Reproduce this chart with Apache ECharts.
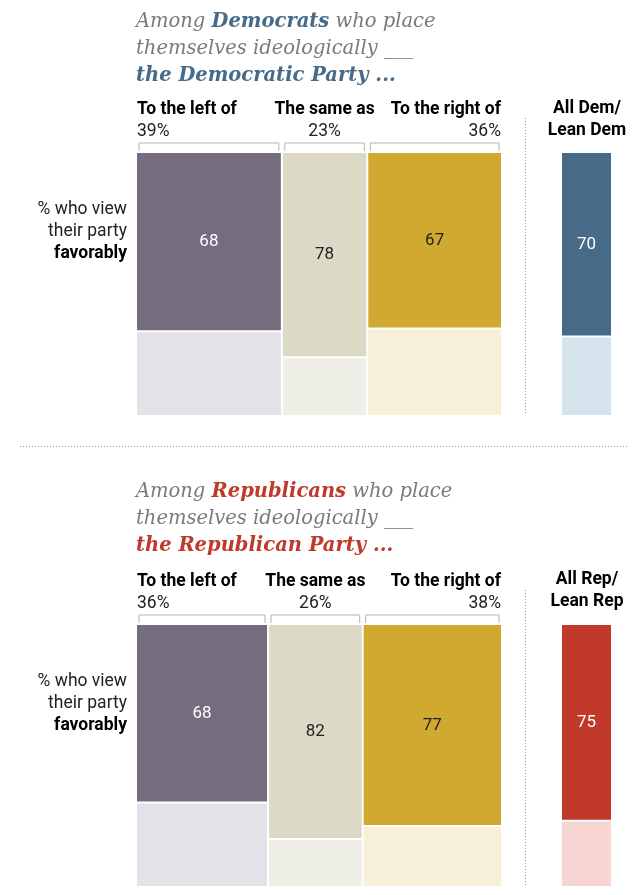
<!DOCTYPE html>
<html>
<head>
    <meta charset="utf-8">
    <title>Party favorability by ideological placement</title>
    <script src="https://cdn.jsdelivr.net/npm/echarts@6/dist/echarts.min.js"></script>
    <style>
        * { margin: 0; padding: 0; }
        html, body { background: #fff; }
        #main { width: 640px; height: 895px; }
    </style>
</head>
<body>
<div id="main"></div>
<script>
    // ---- data ----
    var groups = ['To the left of', 'The same as', 'To the right of'];
    var demShares = [39, 23, 36];      // share of Democrats in each group
    var demFav = [68, 78, 67];         // % viewing their party favorably
    var repShares = [36, 26, 38];
    var repFav = [68, 82, 77];
    var demAll = 70;
    var repAll = 75;
    var demAllLabel = 'All Dem/\nLean Dem';
    var repAllLabel = 'All Rep/\nLean Rep';
    var rowLabel = ['% who view', 'their party', 'favorably'];

    var darkColors = ['#766c7f', '#dcd9c6', '#d1a930'];
    var lightColors = ['#e3e2e8', '#efefe7', '#f8efd9'];
    var labelColors = ['#fff', '#222', '#222'];

    var SANS = 'Roboto, "Liberation Sans", sans-serif';
    var SERIF = '"DejaVu Serif", Georgia, serif';

    function mekkoData(shares, fav) {
        var out = [];
        var acc = 0;
        for (var i = 0; i < shares.length; i++) {
            out.push([acc, acc + shares[i], fav[i], i, shares.length]);
            acc += shares[i];
        }
        return out;
    }
    function sum(a) { return a.reduce(function (s, v) { return s + v; }, 0); }

    function mekkoRender(shares, dark, light, lblColor, withHeaders) {
        return function (params, api) {
            var x0 = api.value(0), x1 = api.value(1), fav = api.value(2);
            var i = api.value(3), n = api.value(4);
            var tl = api.coord([x0, 0]);
            var mid = api.coord([x1, fav]);
            var br = api.coord([x1, 100]);
            var gl = i === 0 ? 0 : 1;
            var gr = i === n - 1 ? 0 : 1;
            var left = tl[0] + gl, right = br[0] - gr;
            var w = right - left;
            var children = [
                { type: 'rect', shape: { x: left, y: tl[1], width: w, height: mid[1] - tl[1] - 1 },
                  style: { fill: dark[i] } },
                { type: 'rect', shape: { x: left, y: mid[1] + 1, width: w, height: br[1] - mid[1] - 1 },
                  style: { fill: light[i] } },
                { type: 'text', style: { text: String(fav), x: left + w / 2, y: (tl[1] + mid[1]) / 2,
                  align: 'center', verticalAlign: 'middle', fill: lblColor[i],
                  font: '17px ' + SANS } }
            ];
            if (withHeaders) {
                var bl = left + 2, brx = right - 2;
                children.push({ type: 'polyline',
                    shape: { points: [[bl, tl[1] - 2], [bl, tl[1] - 10], [brx, tl[1] - 10], [brx, tl[1] - 2]] },
                    style: { stroke: '#b3b3b3', lineWidth: 1, fill: null } });
                var align = i === 0 ? 'left' : (i === n - 1 ? 'right' : 'center');
                var tx = i === 0 ? left : (i === n - 1 ? right : left + w / 2);
                children.push({ type: 'text', style: { text: groups[i], x: tx, y: tl[1] - 43,
                    align: align, verticalAlign: 'middle', fill: '#000',
                    font: 'bold 17.5px ' + SANS } });
                children.push({ type: 'text', style: { text: shares[i] + '%', x: tx, y: tl[1] - 21,
                    align: align, verticalAlign: 'middle', fill: '#222',
                    font: '17.5px ' + SANS } });
            }
            return { type: 'group', children: children };
        };
    }

    function titleRich(color) {
        return {
            a: { fontFamily: SERIF, fontStyle: 'italic', fontWeight: 'normal', fontSize: 19.5, color: '#7a7a7a', lineHeight: 27 },
            b: { fontFamily: SERIF, fontStyle: 'italic', fontWeight: 'bold', fontSize: 19.5, color: color, lineHeight: 27 }
        };
    }

    var chart = echarts.init(document.getElementById('main'));

    var grids = [
        { left: 137, top: 153, width: 364, height: 262 },
        { left: 562, top: 153, width: 49, height: 262 },
        { left: 137, top: 625, width: 364, height: 261 },
        { left: 562, top: 625, width: 49, height: 261 }
    ];
    var xMax = [sum(demShares), 1, sum(repShares), 1];

    var option = {
        backgroundColor: '#fff',
        animation: false,
        title: [
            { left: 131, top: 3, text: '{a|Among }{b|Democrats}{a| who place}\n{a|themselves ideologically ___}\n{b|the Democratic Party ...}',
              textStyle: { fontWeight: 'normal', rich: titleRich('#466a87') } },
            { left: 131, top: 473, text: '{a|Among }{b|Republicans}{a| who place}\n{a|themselves ideologically ___}\n{b|the Republican Party ...}',
              textStyle: { fontWeight: 'normal', rich: titleRich('#bf3a2b') } }
        ],
        grid: grids,
        xAxis: grids.map(function (g, k) {
            return { type: 'value', gridIndex: k, min: 0, max: xMax[k], show: false };
        }),
        yAxis: grids.map(function (g, k) {
            return { type: 'value', gridIndex: k, min: 0, max: 100, inverse: true, show: false };
        }),
        series: [
            { type: 'custom', xAxisIndex: 0, yAxisIndex: 0, data: mekkoData(demShares, demFav),
              renderItem: mekkoRender(demShares, darkColors, lightColors, labelColors, true) },
            { type: 'custom', xAxisIndex: 1, yAxisIndex: 1, data: mekkoData([1], [demAll]),
              renderItem: mekkoRender([1], ['#466a87'], ['#d5e3ed'], ['#fff'], false) },
            { type: 'custom', xAxisIndex: 2, yAxisIndex: 2, data: mekkoData(repShares, repFav),
              renderItem: mekkoRender(repShares, darkColors, lightColors, labelColors, true) },
            { type: 'custom', xAxisIndex: 3, yAxisIndex: 3, data: mekkoData([1], [repAll]),
              renderItem: mekkoRender([1], ['#c0392b'], ['#f6d5d2'], ['#fff'], false) }
        ],
        graphic: [
            { type: 'text', x: 587, y: 98, style: { text: demAllLabel, fill: '#000', align: 'center',
              font: 'bold 17.5px ' + SANS, lineHeight: 22 } },
            { type: 'text', x: 587, y: 569, style: { text: repAllLabel, fill: '#000', align: 'center',
              font: 'bold 17.5px ' + SANS, lineHeight: 22 } },
            { type: 'text', x: 127, y: 199, style: { text: rowLabel[0] + '\n' + rowLabel[1], fill: '#222',
              font: '17.5px ' + SANS, lineHeight: 22, align: 'right' } },
            { type: 'text', x: 127, y: 243, style: { text: rowLabel[2], fill: '#000',
              font: 'bold 17.5px ' + SANS, lineHeight: 22, align: 'right' } },
            { type: 'text', x: 127, y: 671, style: { text: rowLabel[0] + '\n' + rowLabel[1], fill: '#222',
              font: '17.5px ' + SANS, lineHeight: 22, align: 'right' } },
            { type: 'text', x: 127, y: 715, style: { text: rowLabel[2], fill: '#000',
              font: 'bold 17.5px ' + SANS, lineHeight: 22, align: 'right' } },
            { type: 'line', shape: { x1: 525.5, y1: 118, x2: 525.5, y2: 415 },
              style: { stroke: '#999', lineWidth: 1, lineDash: [1, 2] } },
            { type: 'line', shape: { x1: 525.5, y1: 590, x2: 525.5, y2: 886 },
              style: { stroke: '#999', lineWidth: 1, lineDash: [1, 2] } },
            { type: 'line', shape: { x1: 20, y1: 446.5, x2: 628, y2: 446.5 },
              style: { stroke: '#999', lineWidth: 1, lineDash: [1, 2] } }
        ]
    };
    chart.setOption(option);
</script>
</body>
</html>
